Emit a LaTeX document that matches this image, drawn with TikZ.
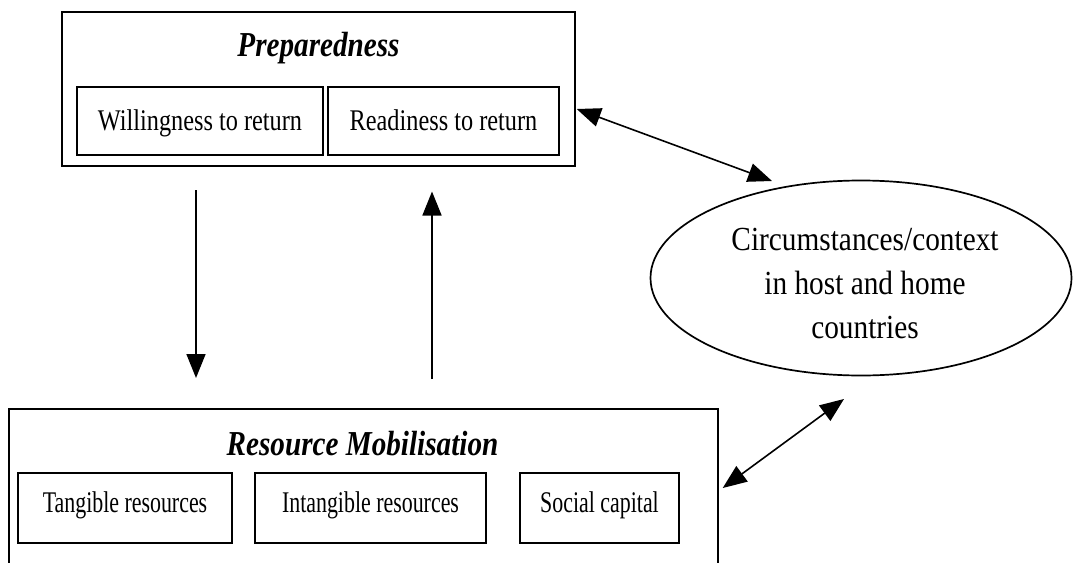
\documentclass[tikz,border=0pt]{standalone}
\usepackage{fontspec}
\setmainfont{Liberation Serif}
\newfontfamily\titlefam[FakeStretch=0.834]{Liberation Serif}
\newfontfamily\topfam[FakeStretch=0.81]{Liberation Serif}
\newfontfamily\botfam[FakeStretch=0.73]{Liberation Serif}
\newfontfamily\ellfam[FakeStretch=0.87]{Liberation Serif}
\usetikzlibrary{arrows.meta,shapes.geometric}
\tikzset{
  outerbox/.style={draw, line width=1.4pt, inner sep=0pt},
  innerbox/.style={draw, line width=1.9pt, inner sep=0pt},
  titletext/.style={font=\titlefam\bfseries\itshape\fontsize{35}{40}\selectfont, anchor=base, inner sep=0pt},
  toptext/.style={font=\topfam\fontsize{30}{34}\selectfont, text height=22pt, text depth=4pt},
  bottext/.style={font=\botfam\fontsize{30}{34}\selectfont, text height=18pt, text depth=10pt},
  ctxshape/.style={draw, ellipse, line width=1.7pt, inner sep=0pt},
  ctxtext/.style={align=center, inner sep=0pt, font=\ellfam\fontsize{33.7}{44}\selectfont},
  arr/.style={line width=1.6pt, -{Triangle[length=24pt,width=19pt]}},
  dblarr/.style={line width=1.6pt, {Triangle[length=24pt,width=19pt]}-{Triangle[length=24pt,width=19pt]}}
}
\begin{document}
\begin{tikzpicture}[x=1pt,y=-1pt]
\useasboundingbox (0,0) rectangle (1073,562);
\clip (0,0) rectangle (1073,562);

% Preparedness
\node[outerbox, minimum width=513pt, minimum height=154pt] (prep) at (318.5,89) {};
\node[titletext] (prept) at (318.5,56) {Preparedness};
\node[innerbox, toptext, minimum width=246pt, minimum height=68pt] (will) at (200,121) {Willingness to return};
\node[innerbox, toptext, minimum width=231pt, minimum height=68pt] (ready) at (443.5,121) {Readiness to return};

% Resource Mobilisation
\node[outerbox, minimum width=709pt, minimum height=181pt] (rm) at (363.5,499.5) {};
\node[titletext] (rmt) at (362.5,455) {Resource Mobilisation};
\node[innerbox, bottext, minimum width=214pt, minimum height=70pt] (tang) at (125,508) {Tangible resources};
\node[innerbox, bottext, minimum width=231pt, minimum height=70pt] (intang) at (370.5,508) {Intangible resources};
\node[innerbox, bottext, minimum width=159pt, minimum height=70pt] (soc) at (599.5,508) {Social capital};

% Circumstances
\node[ctxshape, minimum width=421pt, minimum height=195pt] (ctx) at (861,278) {};
\node[ctxtext, anchor=north] (ctxt) at (865,227.5)
  {Circumstances/context\\in host and home\\countries};

% Connectors
\coordinate (dA) at (196,190);
\coordinate (dB) at (196,378);
\coordinate (uA) at (432,379);
\coordinate (uB) at (432,191.5);
\coordinate (e1) at (772,181);
\coordinate (e2) at (844,399);
\draw[arr] (dA) -- (dB);
\draw[arr] (uA) -- (uB);
\draw[dblarr] ([xshift=1pt,yshift=-20pt]prep.east) -- (e1);
\draw[dblarr] ([xshift=4pt,yshift=11.5pt]rm.east) -- (e2);
\end{tikzpicture}
\end{document}
